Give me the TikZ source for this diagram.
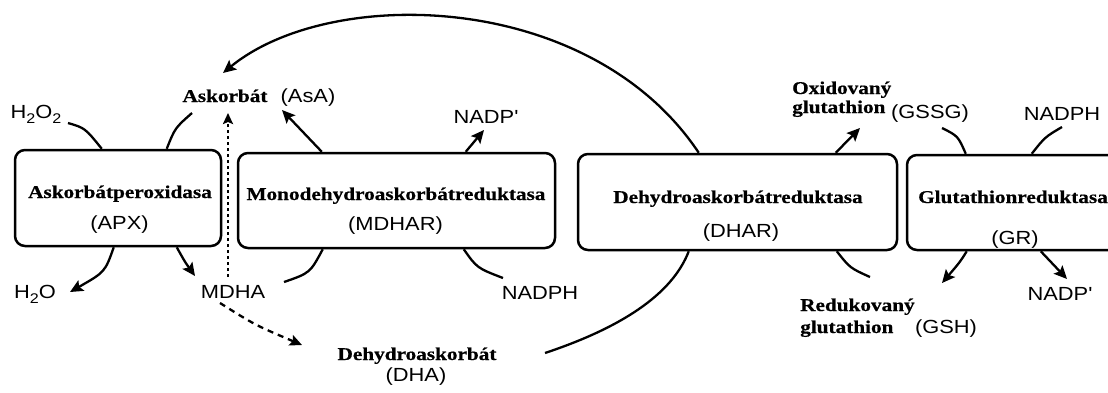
\documentclass[tikz,border=0pt]{standalone}
\usepackage{fontspec}
\setmainfont{Liberation Serif}
\newfontfamily\bsf[FakeStretch=1.18,FakeBold=0.6]{Liberation Serif}
\newfontfamily\ssf[FakeStretch=1.15]{Liberation Sans}
\usetikzlibrary{arrows.meta,calc}
\newcommand\mysub[1]{\raisebox{-.55ex}{\fontsize{14}{14}\selectfont #1}}
\begin{document}
\begin{tikzpicture}[x=1pt,y=-1pt,
  enzbox/.style={draw,line width=2.5pt,rounded corners=10pt,inner sep=0pt},
  sertxt/.style={font=\bsf\bfseries\fontsize{18}{18}\selectfont,inner sep=0pt,anchor=base},
  santxt/.style={font=\ssf\fontsize{19}{19}\selectfont,inner sep=0pt,anchor=base},
  conn/.style={line width=2.3pt},
  arr/.style={conn,-{Stealth[length=13pt,width=12pt,inset=2.5pt]}},
  dotarr/.style={conn,dash pattern=on 3pt off 3pt,-{Stealth[length=11pt,width=10pt,inset=2pt]}},
  dasharr/.style={conn,dash pattern=on 6pt off 5pt,-{Stealth[length=12pt,width=11pt,inset=2pt]}},
]
\useasboundingbox (0,0) rectangle (1108,392);
\clip (0,0) rectangle (1108,392);
\fill[white] (0,0) rectangle (1108,392);

% boxes
\node[enzbox,minimum width=206pt,minimum height=96pt] (apx) at (118,198) {};
\node[enzbox,minimum width=317pt,minimum height=95pt] (mdhar) at (396.5,200.5) {};
\node[enzbox,minimum width=319pt,minimum height=96pt] (dhar) at (737.5,202) {};
\node[enzbox,minimum width=223pt,minimum height=95pt] (gr) at (1018.5,202.5) {};

% box texts
\node[sertxt] (apxn) at (120,198) {Askorbátperoxidasa};
\node[santxt] (apxa) at (119.5,229) {(APX)};
\node[sertxt] (mdharn) at (396,200) {Monodehydroaskorbátreduktasa};
\node[santxt] (mdhara) at (395.5,230) {(MDHAR)};
\node[sertxt] (dharn) at (738,203) {Dehydroaskorbátreduktasa};
\node[santxt] (dhara) at (741,237) {(DHAR)};
\node[sertxt] (grn) at (1013,203) {Glutathionreduktasa};
\node[santxt] (gra) at (1015,244) {(GR)};

% other labels
\node[santxt] (h2o2) at (36,118) {H\mysub{2}O\mysub{2}};
\node[santxt] (h2o) at (35,298) {H\mysub{2}O};
\node[sertxt] (asa) at (225,102) {Askorbát};
\node[santxt] (asaa) at (308,102) {(AsA)};
\node[santxt] (nadp1) at (486,123) {NADP'};
\node[santxt] (mdha) at (233,298) {MDHA};
\node[santxt] (nadph1) at (540,299) {NADPH};
\node[sertxt] (dha) at (417,360) {Dehydroaskorbát};
\node[santxt] (dhaa) at (416,381) {(DHA)};
\node[sertxt,anchor=base west] (gssg1) at (792,94) {Oxidovaný};
\node[sertxt,anchor=base west] (gssg2) at (792,113) {glutathion};
\node[santxt] (gssga) at (930,118) {(GSSG)};
\node[santxt] (nadph2) at (1062,120) {NADPH};
\node[sertxt,anchor=base west] (gsh1) at (800,311) {Redukovaný};
\node[sertxt,anchor=base west] (gsh2) at (800,333) {glutathion};
\node[santxt] (gsha) at (946,333) {(GSH)};
\node[santxt] (nadp2) at (1060,300) {NADP'};

% connector ends near labels
\coordinate (e-h2o2) at (68,123);
\coordinate (e-asa1) at (192,113);
\coordinate (e-asa2) at (228,113);
\coordinate (e-asa3) at (282,110);
\coordinate (e-asa4) at (223,73);
\coordinate (e-nadp1) at (484,130);
\coordinate (e-h2o) at (70,292);
\coordinate (e-mdha1) at (195,276);
\coordinate (e-mdha2) at (284,282);
\coordinate (e-mdha3) at (228,277);
\coordinate (e-mdha4) at (220,303);
\coordinate (e-dha1) at (302,345);
\coordinate (e-dha2) at (545,353);
\coordinate (e-nadph1) at (503,278);
\coordinate (e-gssg1) at (860,128);
\coordinate (e-gssg2) at (942,128);
\coordinate (e-nadph2) at (1062,127);
\coordinate (e-gsh1) at (870,277);
\coordinate (e-gsh2) at (942,283);
\coordinate (e-nadp2) at (1067,279);

% APX
\draw[conn] (e-h2o2) .. controls (85,128) .. ($(apx.north west)+(88,0)$);
\draw[conn] ($(apx.north west)+(153,0)$) .. controls (175,128) .. (e-asa1);
\draw[arr] ($(apx.south west)+(100,0)$) .. controls (105,272) .. (e-h2o);
\draw[arr] ($(apx.south west)+(163,0)$) .. controls (185,262) .. (e-mdha1);
\draw[dotarr] (e-mdha3) -- (e-asa2);
% MDHAR
\draw[arr] ($(mdhar.north west)+(85,0)$) -- (e-asa3);
\draw[arr] ($(mdhar.north west)+(229,0)$) -- (e-nadp1);
\draw[conn] (e-mdha2) .. controls (310,273) .. ($(mdhar.south west)+(86,0)$);
\draw[conn] ($(mdhar.south west)+(227,0)$) .. controls (477,268) .. (e-nadph1);
\draw[dasharr] (e-mdha4) .. controls (255,325) .. (e-dha1);
% DHAR
\draw[conn] (e-dha2) .. controls (620,328) and (672,295) .. ($(dhar.south west)+(112,0)$);
\draw[arr] ($(dhar.north west)+(122,0)$) .. controls (590,-10) and (330,-15) .. (e-asa4);
\draw[arr] ($(dhar.north west)+(259,0)$) -- (e-gssg1);
\draw[conn] ($(dhar.south west)+(260,0)$) .. controls (850,268) .. (e-gsh1);
% GR
\draw[conn] (e-gssg2) .. controls (958,136) .. ($(gr.north west)+(60,0)$);
\draw[conn] (e-nadph2) .. controls (1045,137) .. ($(gr.north west)+(126,0)$);
\draw[arr] ($(gr.south west)+(61,0)$) .. controls (960,262) .. (e-gsh2);
\draw[arr] ($(gr.south west)+(135,0)$) -- (e-nadp2);
\end{tikzpicture}
\end{document}
